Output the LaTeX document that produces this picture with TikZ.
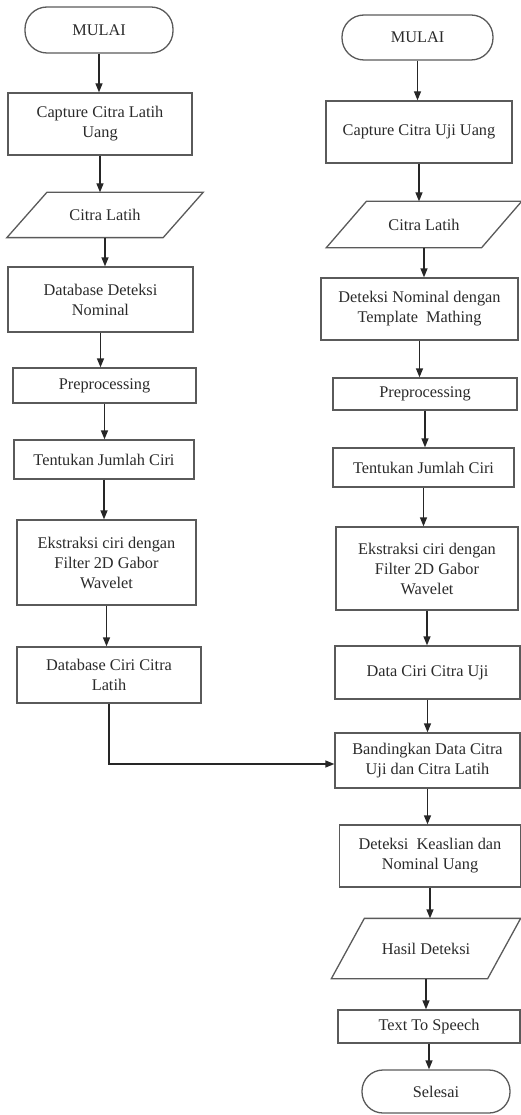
\documentclass[tikz,border=0pt]{standalone}
\usepackage{fontspec}
\setmainfont{Liberation Serif}
\usetikzlibrary{arrows.meta}
\definecolor{linegray}{HTML}{5A5A5A}
\definecolor{textc}{HTML}{2A2A2A}
\tikzset{
  base/.style={draw=linegray, line width=1.3pt, inner sep=0pt, align=center, text=textc,
    font=\fontsize{16.3}{20}\selectfont},
  proc/.style={base, rectangle},
  term/.style={base, rectangle, rounded corners=22pt},
  iobody/.style={base, draw=none, rectangle},
  ioline/.style={draw=linegray, line width=1.3pt},
  arr/.style={-{Triangle[length=9pt,width=7pt]}, line width=1.3pt, draw=black!85}
}
\newcommand\ioshape[2]{%
  \draw[ioline] ([xshift=#2]#1.north west) -- ([xshift=#2]#1.north east)
    -- ([xshift=-#2]#1.south east) -- ([xshift=-#2]#1.south west) -- cycle;}
\begin{document}
\begin{tikzpicture}[x=1pt,y=-1pt]
\useasboundingbox (0,0) rectangle (521,1115);
% left column
\node[term, minimum width=148pt, minimum height=46pt] (l1) at (99,30) {MULAI};
\node[proc, minimum width=184pt, minimum height=62pt] (l2) at (100,124) {Capture Citra Latih\\Uang};
\node[iobody, minimum width=155pt, minimum height=44pt] (l3) at (105,215) {Citra Latih};
\ioshape{l3}{20pt}
\node[proc, minimum width=185pt, minimum height=65pt] (l4) at (100.5,299.5) {Database Deteksi\\Nominal};
\node[proc, minimum width=183pt, minimum height=35pt] (l5) at (104.5,385.5) {Preprocessing};
\node[proc, minimum width=180pt, minimum height=39pt] (l6) at (104,459.5) {Tentukan Jumlah Ciri};
\node[proc, minimum width=179pt, minimum height=85pt] (l7) at (106.5,562.5) {Ekstraksi ciri dengan\\Filter 2D Gabor\\Wavelet};
\node[proc, minimum width=184pt, minimum height=56pt] (l8) at (109,675) {Database Ciri Citra\\Latih};
% right column
\node[term, minimum width=151pt, minimum height=45pt] (r1) at (417.5,37.5) {MULAI};
\node[proc, minimum width=186pt, minimum height=62pt] (r2) at (419,132) {Capture Citra Uji Uang};
\node[iobody, minimum width=154pt, minimum height=45pt] (r3) at (424,224.5) {Citra Latih};
\ioshape{r3}{20pt}
\node[proc, minimum width=197pt, minimum height=62pt] (r4) at (419.5,309) {Deteksi Nominal dengan\\Template\ \ Mathing};
\node[proc, minimum width=184pt, minimum height=32pt] (r5) at (425,394) {Preprocessing};
\node[proc, minimum width=181pt, minimum height=39pt] (r6) at (423.5,467.5) {Tentukan Jumlah Ciri};
\node[proc, minimum width=182pt, minimum height=83pt] (r7) at (427,568.5) {Ekstraksi ciri dengan\\Filter 2D Gabor\\Wavelet};
\node[proc, minimum width=185pt, minimum height=53pt] (r8) at (427.5,672.5) {Data Ciri Citra Uji};
\node[proc, minimum width=185pt, minimum height=55pt] (r9) at (427.5,760.5) {Bandingkan Data Citra\\Uji dan Citra Latih};
\node[proc, minimum width=181pt, minimum height=62pt] (r10) at (430,856) {Deteksi\ \ Keaslian dan\\Nominal Uang};
\node[iobody, minimum width=155pt, minimum height=59pt] (r11) at (426,948.5) {Hasil Deteksi};
\ioshape{r11}{16.5pt}
\node[proc, minimum width=182pt, minimum height=33pt] (r12) at (429,1026.5) {Text To Speech};
\node[term, minimum width=148pt, minimum height=43pt, rounded corners=21pt] (r13) at (436,1091.5) {Selesai};
% arrows left
\foreach \a/\b in {l1/l2,l2/l3,l3/l4,l4/l5,l5/l6,l6/l7,l7/l8}
  \draw[arr] (\a.south) -- (\a.south |- \b.north);
% arrows right
\foreach \a/\b in {r1/r2,r2/r3,r3/r4,r4/r5,r5/r6,r6/r7,r7/r8,r8/r9,r9/r10,r10/r11,r11/r12,r12/r13}
  \draw[arr] (\a.south) -- (\a.south |- \b.north);
% join
\coordinate (j) at (109,764);
\draw[arr] (l8.south) -- (j) -- (j -| r9.west);
\end{tikzpicture}
\end{document}
